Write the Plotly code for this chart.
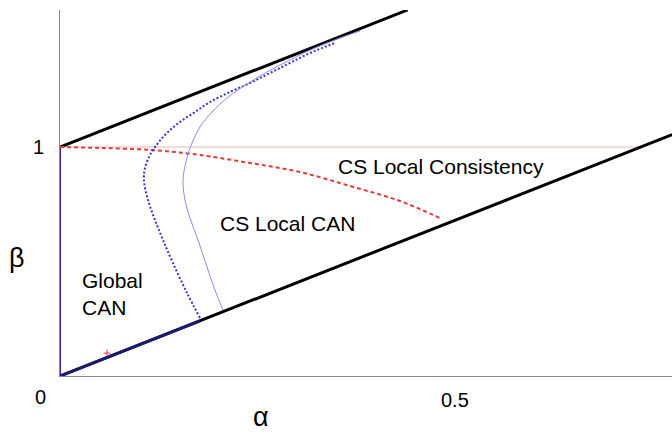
import plotly.graph_objects as go

# Region boundaries: beta = 1 + k*alpha (upper) and beta = k*alpha (lower)
slope_k = 1.36
upper_alpha = [0.0, 0.44]
lower_alpha = [0.0, 0.775]
consistency_level = 1.0

# CS local consistency threshold (red dashed)
red_alpha = [0.0, 0.0506, 0.1165, 0.1772, 0.2405, 0.3038, 0.3671, 0.4304, 0.4835]
red_beta = [1.0, 0.9956, 0.9869, 0.9651, 0.9301, 0.8908, 0.8297, 0.7642, 0.6856]

# Global CAN boundary (blue dotted)
dot_alpha = [0.1772, 0.1608, 0.1430, 0.1304, 0.1203, 0.1114, 0.1063, 0.1076, 0.1139,
             0.1241, 0.1367, 0.1519, 0.1709, 0.1899, 0.2152, 0.2405, 0.2658, 0.2911,
             0.3165, 0.3481]
dot_beta = [0.2533, 0.3624, 0.4934, 0.5939, 0.6812, 0.7686, 0.8559, 0.9083, 0.9651,
            1.0175, 1.0655, 1.1092, 1.1528, 1.1965, 1.2402, 1.2795, 1.3231, 1.3668,
            1.4105, 1.4541]

# CS local CAN boundary (thin blue)
solid_alpha = [0.2063, 0.1962, 0.1861, 0.1747, 0.1646, 0.1582, 0.1557, 0.1595, 0.1646,
               0.1772, 0.1924, 0.2114, 0.2367, 0.2620, 0.2911, 0.3253, 0.3544, 0.3797]
solid_beta = [0.2882, 0.3755, 0.4760, 0.5939, 0.6900, 0.7686, 0.8559, 0.9345, 0.9956,
              1.0873, 1.1528, 1.2140, 1.2751, 1.3275, 1.3799, 1.4367, 1.4760, 1.5066]

# Single marked point
mark_alpha = [0.0595]
mark_beta = [0.100]

# Tick labels
x_tick_vals = [0.5]
x_tick_text = ["0.5"]
y_tick_vals = [1.0]
y_tick_text = ["1"]
origin_text = "0"

FONT = "Liberation Sans, Arial, Helvetica, sans-serif"

fig = go.Figure()

# thin horizontal beta = 1 line, up to the lower boundary
fig.add_trace(go.Scatter(
    x=[0.0, consistency_level / slope_k], y=[consistency_level, consistency_level],
    mode="lines", line=dict(color="#eab4b4", width=1), hoverinfo="skip"))

# black boundary lines
fig.add_trace(go.Scatter(
    x=upper_alpha, y=[1 + slope_k * a for a in upper_alpha],
    mode="lines", line=dict(color="black", width=3), hoverinfo="skip"))
fig.add_trace(go.Scatter(
    x=lower_alpha, y=[slope_k * a for a in lower_alpha],
    mode="lines", line=dict(color="black", width=3), hoverinfo="skip"))

# global CAN region edges drawn in blue along the axis and lower boundary
fig.add_trace(go.Scatter(
    x=[0.0, 0.0], y=[0.0, consistency_level],
    mode="lines", line=dict(color="#2b2bb8", width=2), hoverinfo="skip"))
fig.add_trace(go.Scatter(
    x=[0.0, dot_alpha[0]], y=[0.0, slope_k * dot_alpha[0]],
    mode="lines", line=dict(color="#1c1c6e", width=3), hoverinfo="skip"))

# red dashed threshold
fig.add_trace(go.Scatter(
    x=red_alpha, y=red_beta, mode="lines", line_shape="spline",
    line=dict(color="#e03a3a", width=2, dash="4px,3px"), hoverinfo="skip"))

# blue dotted and thin blue curves
fig.add_trace(go.Scatter(
    x=dot_alpha, y=dot_beta, mode="lines", line_shape="spline",
    line=dict(color="#3535cc", width=2, dash="2px,2px"), hoverinfo="skip"))
fig.add_trace(go.Scatter(
    x=solid_alpha, y=solid_beta, mode="lines", line_shape="spline",
    line=dict(color="#8c8ce6", width=1), hoverinfo="skip"))

fig.add_trace(go.Scatter(
    x=mark_alpha, y=mark_beta, mode="markers",
    marker=dict(symbol="cross-thin", size=5, line=dict(color="#e03a3a", width=1)),
    hoverinfo="skip"))

annotations = []
for v, t in zip(x_tick_vals, x_tick_text):
    annotations.append(dict(x=v, y=0, text=t, yshift=-24, showarrow=False,
                            font=dict(size=20, color="black", family=FONT)))
for v, t in zip(y_tick_vals, y_tick_text):
    annotations.append(dict(x=0, y=v, text=t, xshift=-22, showarrow=False,
                            font=dict(size=20, color="black", family=FONT)))
annotations.append(dict(x=0, y=0, text=origin_text, xshift=-20, yshift=-21,
                        showarrow=False, font=dict(size=20, color="black", family=FONT)))

# axis symbols (placed in paper space, outside the plotting area)
annotations.append(dict(xref="paper", yref="paper", x=0.329, y=-0.1585, text="α",
                        xanchor="center", yanchor="bottom", showarrow=False,
                        font=dict(size=27, color="black", family=FONT)))
annotations.append(dict(xref="paper", yref="paper", x=-0.071, y=0.322, text="β",
                        xanchor="center", yanchor="middle", showarrow=False,
                        font=dict(size=27, color="black", family=FONT)))

# region labels
annotations.append(dict(x=0.482, y=0.913, text="CS Local Consistency", showarrow=False,
                        font=dict(size=21, color="black", family=FONT)))
annotations.append(dict(x=0.288, y=0.668, text="CS Local CAN", showarrow=False,
                        font=dict(size=21, color="black", family=FONT)))
annotations.append(dict(x=0.0253, y=0.360, text="Global<br>CAN", showarrow=False,
                        xanchor="left", align="left",
                        font=dict(size=21, color="black", family=FONT)))

fig.update_layout(
    width=672, height=434,
    margin=dict(l=60, r=0, t=10, b=58),
    paper_bgcolor="white", plot_bgcolor="white",
    showlegend=False,
    annotations=annotations,
    xaxis=dict(range=[0, 612 / 790], showgrid=False, zeroline=False,
               showline=True, linecolor="#888888", linewidth=1,
               showticklabels=False, ticks=""),
    yaxis=dict(range=[0, 366 / 229], showgrid=False, zeroline=False,
               showline=True, linecolor="#888888", linewidth=1,
               showticklabels=False, ticks=""),
)

fig.write_html("out.html")
